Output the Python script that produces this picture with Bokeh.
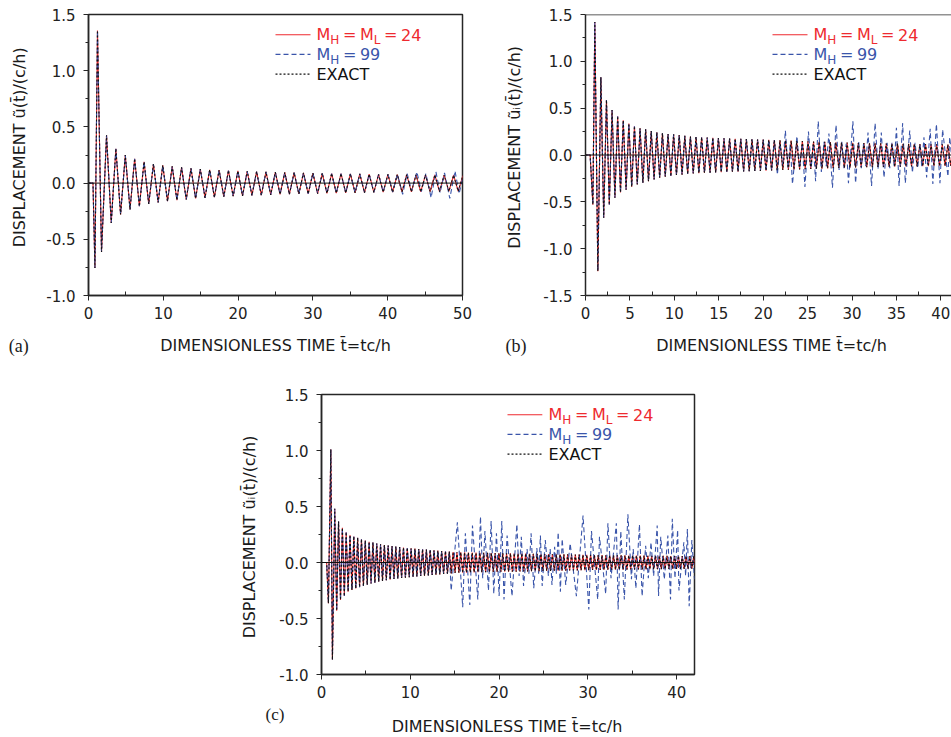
import math
from bokeh.plotting import figure
from bokeh.models import Range1d, Span, Label, FixedTicker, PrintfTickFormatter, Spacer
from bokeh.layouts import column, row
from bokeh.embed import file_html
from bokeh.resources import INLINE
from bokeh.core.properties import value

# ---------------- DATA (extrema) ----------------
# Panel (a): exact solution (red M_H = M_L = 24 coincides with it)
a_t = [0.00, 0.60, 0.86, 1.20, 1.74,
       2.41, 3.04, 3.66, 4.29, 4.92, 5.55, 6.17, 6.80, 7.43, 8.05,
       8.68, 9.31, 9.93, 10.56, 11.19, 11.82, 12.44, 13.07, 13.70, 14.32,
       14.95, 15.58, 16.20, 16.83, 17.46, 18.09, 18.71, 19.34, 19.97, 20.59,
       21.22, 21.85, 22.47, 23.10, 23.73, 24.36, 24.98, 25.61, 26.24, 26.86,
       27.49, 28.12, 28.74, 29.37, 30.00, 30.63, 31.25, 31.88, 32.51, 33.13,
       33.76, 34.39, 35.01, 35.64, 36.27, 36.90, 37.52, 38.15, 38.78, 39.40,
       40.03, 40.66, 41.28, 41.91, 42.54, 43.17, 43.79, 44.42, 45.05, 45.67,
       46.30, 46.93, 47.55, 48.18, 48.81, 49.43, 50.06]
a_v = [0.0, 0.0, -0.756, 1.357, -0.613,
       0.426, -0.354, 0.306, -0.280, 0.250, -0.235, 0.217, -0.205, 0.190, -0.185,
       0.170, -0.172, 0.158, -0.160, 0.149, -0.152, 0.140, -0.146, 0.131, -0.137,
       0.125, -0.131, 0.119, -0.125, 0.115, -0.121, 0.112, -0.117, 0.108, -0.113,
       0.105, -0.110, 0.102, -0.107, 0.100, -0.104, 0.097, -0.101, 0.095, -0.099,
       0.093, -0.097, 0.091, -0.095, 0.089, -0.093, 0.087, -0.091, 0.085, -0.089,
       0.084, -0.087, 0.082, -0.086, 0.081, -0.084, 0.079, -0.083, 0.078, -0.081,
       0.077, -0.080, 0.076, -0.079, 0.075, -0.078, 0.074, -0.077, 0.073, -0.076,
       0.072, -0.075, 0.071, -0.074, 0.070, -0.073, 0.069]
# Panel (a): M_H = 99 departs from the exact curve after t ~ 41
a_blue_start = 41.0
a_blue_t = [41.30, 42.00, 42.60, 43.20, 43.90, 44.50, 45.10, 45.80, 46.45, 47.00,
            47.60, 48.30, 49.00, 49.55, 50.06]
a_blue_v = [0.080, -0.100, 0.085, -0.070, 0.100, -0.075, 0.085, -0.130, 0.100, -0.085,
            0.090, -0.137, 0.107, -0.095, 0.060]

# Panel (b)
b_t = [0.00, 0.52, 0.83, 1.05, 1.39,
       1.73, 2.05, 2.36, 2.68, 2.99, 3.31, 3.62, 3.94, 4.25, 4.57,
       4.88, 5.20, 5.51, 5.83, 6.14, 6.46, 6.77, 7.09, 7.40, 7.72,
       8.03, 8.35, 8.66, 8.98, 9.29, 9.61, 9.92, 10.24, 10.55, 10.87,
       11.18, 11.50, 11.81, 12.13, 12.44, 12.76, 13.07, 13.39, 13.70, 14.02,
       14.33, 14.65, 14.96, 15.28, 15.59, 15.91, 16.22, 16.54, 16.85, 17.17,
       17.48, 17.80, 18.11, 18.43, 18.74, 19.06, 19.37, 19.69, 20.00, 20.32,
       20.63, 20.95, 21.26, 21.58, 21.89, 22.21, 22.52, 22.84, 23.15, 23.47,
       23.78, 24.10, 24.41, 24.73, 25.04, 25.36, 25.67, 25.99, 26.30, 26.62,
       26.93, 27.25, 27.56, 27.88, 28.19, 28.51, 28.82, 29.14, 29.45, 29.77,
       30.08, 30.40, 30.71, 31.03, 31.34, 31.66, 31.97, 32.29, 32.60, 32.92,
       33.23, 33.55, 33.86, 34.18, 34.49, 34.81, 35.12, 35.44, 35.75, 36.07,
       36.38, 36.70, 37.01, 37.33, 37.64, 37.96, 38.27, 38.59, 38.90, 39.22,
       39.53, 39.85, 40.16, 40.48, 40.79, 41.11, 41.42]
b_v = [0.0, 0.0, -0.53, 1.42, -1.24,
       0.83, -0.67, 0.586, -0.53, 0.48, -0.457, 0.414, -0.40, 0.37, -0.37,
       0.336, -0.34, 0.307, -0.314, 0.286, -0.296, 0.275, -0.28, 0.257, -0.26,
       0.243, -0.243, 0.232, -0.232, 0.225, -0.225, 0.221, -0.214, 0.214, -0.210,
       0.204, -0.203, 0.198, -0.198, 0.193, -0.194, 0.188, -0.190, 0.186, -0.188,
       0.184, -0.186, 0.181, -0.184, 0.178, -0.181, 0.176, -0.179, 0.174, -0.177,
       0.172, -0.175, 0.170, -0.173, 0.168, -0.171, 0.166, -0.169, 0.164, -0.167,
       0.162, -0.165, 0.160, -0.162, 0.157, -0.160, 0.155, -0.158, 0.153, -0.156,
       0.150, -0.154, 0.148, -0.151, 0.146, -0.149, 0.144, -0.147, 0.142, -0.145,
       0.140, -0.143, 0.138, -0.141, 0.136, -0.139, 0.134, -0.137, 0.132, -0.135,
       0.130, -0.133, 0.128, -0.131, 0.127, -0.130, 0.126, -0.129, 0.125, -0.128,
       0.124, -0.127, 0.123, -0.126, 0.122, -0.125, 0.121, -0.124, 0.120, -0.123,
       0.119, -0.122, 0.118, -0.121, 0.117, -0.120, 0.116, -0.119, 0.115, -0.118,
       0.114, -0.117, 0.113, -0.116, 0.112, -0.115, 0.111]
b_blue_start = 21.4
b_blue_t = [21.60, 21.90, 22.20, 22.50, 22.80, 23.05, 23.30, 23.80, 24.10, 24.40,
            24.70, 25.10, 25.40, 25.65, 25.90, 26.20, 26.55, 26.85, 27.10, 27.40,
            27.80, 28.20, 28.55, 28.85, 29.10, 29.35, 29.60, 30.10, 30.40, 30.75,
            31.05, 31.30, 31.55, 31.80, 32.20, 32.60, 32.95, 33.30, 33.60, 33.95,
            34.25, 34.50, 34.75, 35.00, 35.30, 35.70, 36.00, 36.50, 36.80, 37.10,
            37.40, 37.65, 37.85, 38.10, 38.40, 38.80, 39.10, 39.50, 39.90, 40.20,
            40.80, 41.00, 41.40]
b_blue_v = [-0.21, 0.12, -0.12, 0.26, -0.14, 0.12, -0.31, 0.20, -0.14, 0.12,
            -0.34, 0.25, -0.14, 0.12, -0.28, 0.36, -0.18, 0.14, -0.12, 0.23,
            -0.35, 0.32, -0.16, 0.14, -0.14, 0.12, -0.30, 0.36, -0.30, 0.14,
            -0.14, 0.12, -0.12, 0.24, -0.33, 0.34, -0.15, 0.24, -0.24, 0.13,
            -0.14, 0.13, -0.12, 0.29, -0.33, 0.34, -0.30, 0.26, -0.19, 0.13,
            -0.14, 0.12, -0.12, 0.19, -0.24, 0.28, -0.31, 0.33, -0.30, 0.27,
            -0.23, 0.19, -0.20]

# Panel (c)
c_t = [0.00, 0.58, 0.78, 1.05, 1.23,
       1.49, 1.71, 1.92, 2.14, 2.35, 2.57, 2.78, 3.00, 3.21, 3.43,
       3.64, 3.86, 4.07, 4.29, 4.50, 4.72, 4.93, 5.15, 5.36, 5.58,
       5.79, 6.01, 6.22, 6.44, 6.65, 6.87, 7.08, 7.30, 7.51, 7.73,
       7.94, 8.16, 8.37, 8.59, 8.80, 9.02, 9.23, 9.45, 9.66, 9.88,
       10.09, 10.31, 10.52, 10.74, 10.95, 11.17, 11.38, 11.60, 11.81, 12.03,
       12.24, 12.46, 12.67, 12.89, 13.10, 13.32, 13.53, 13.75, 13.96, 14.18,
       14.39, 14.61, 14.82, 15.04, 15.25, 15.47, 15.68, 15.90, 16.11, 16.33,
       16.54, 16.76, 16.97, 17.19, 17.40, 17.62, 17.83, 18.05, 18.26, 18.48,
       18.69, 18.91, 19.12, 19.34, 19.55, 19.77, 19.98, 20.20, 20.41, 20.63,
       20.84, 21.06, 21.27, 21.49, 21.70, 21.92, 22.13, 22.35, 22.56, 22.78,
       22.99, 23.21, 23.42, 23.64, 23.85, 24.07, 24.28, 24.50, 24.71, 24.93,
       25.14, 25.36, 25.57, 25.79, 26.00, 26.22, 26.43, 26.65, 26.86, 27.08,
       27.29, 27.51, 27.72, 27.94, 28.15, 28.37, 28.58, 28.80, 29.01, 29.23,
       29.44, 29.66, 29.87, 30.09, 30.30, 30.52, 30.73, 30.95, 31.16, 31.38,
       31.59, 31.81, 32.02, 32.24, 32.45, 32.67, 32.88, 33.10, 33.31, 33.53,
       33.74, 33.96, 34.17, 34.39, 34.60, 34.82, 35.03, 35.25, 35.46, 35.68,
       35.89, 36.11, 36.32, 36.54, 36.75, 36.97, 37.18, 37.40, 37.61, 37.83,
       38.04, 38.26, 38.47, 38.69, 38.90, 39.12, 39.33, 39.55, 39.76, 39.98,
       40.19, 40.41, 40.62, 40.84, 41.05, 41.27, 41.48, 41.70, 41.91, 42.13]
c_v = [0.0, 0.0, -0.364, 1.01, -0.867,
       0.48, -0.43, 0.367, -0.334, 0.31, -0.30, 0.27, -0.26, 0.245, -0.245,
       0.232, -0.232, 0.22, -0.22, 0.208, -0.21, 0.196, -0.198, 0.186, -0.188,
       0.178, -0.180, 0.170, -0.172, 0.163, -0.165, 0.157, -0.159, 0.152, -0.153,
       0.147, -0.148, 0.142, -0.143, 0.138, -0.139, 0.134, -0.135, 0.130, -0.131,
       0.127, -0.127, 0.124, -0.124, 0.121, -0.121, 0.118, -0.118, 0.115, -0.115,
       0.112, -0.112, 0.109, -0.109, 0.106, -0.106, 0.103, -0.103, 0.100, -0.100,
       0.097, -0.097, 0.094, -0.093, 0.092, -0.092, 0.091, -0.091, 0.090, -0.090,
       0.089, -0.089, 0.088, -0.088, 0.088, -0.087, 0.087, -0.087, 0.086, -0.086,
       0.086, -0.085, 0.085, -0.085, 0.084, -0.084, 0.084, -0.083, 0.083, -0.083,
       0.082, -0.082, 0.082, -0.081, 0.081, -0.081, 0.080, -0.080, 0.080, -0.079,
       0.079, -0.079, 0.078, -0.078, 0.078, -0.077, 0.077, -0.077, 0.076, -0.076,
       0.076, -0.075, 0.075, -0.075, 0.074, -0.074, 0.074, -0.073, 0.073, -0.073,
       0.072, -0.072, 0.072, -0.071, 0.071, -0.071, 0.070, -0.070, 0.070, -0.069,
       0.069, -0.069, 0.068, -0.068, 0.068, -0.067, 0.067, -0.067, 0.066, -0.066,
       0.066, -0.066, 0.065, -0.065, 0.065, -0.065, 0.064, -0.064, 0.064, -0.064,
       0.063, -0.063, 0.063, -0.063, 0.062, -0.062, 0.062, -0.062, 0.062, -0.061,
       0.061, -0.061, 0.061, -0.061, 0.060, -0.060, 0.060, -0.060, 0.060, -0.060,
       0.059, -0.059, 0.059, -0.059, 0.059, -0.058, 0.058, -0.058, 0.058, -0.058,
       0.058, -0.057, 0.057, -0.057, 0.057, -0.057, 0.057, -0.056, 0.056, -0.056]
c_blue_start = 14.5
c_blue_t = [14.60, 15.30, 15.90, 16.20, 16.70, 17.00, 17.60, 17.90, 18.15, 18.40,
            18.80, 19.10, 19.40, 19.70, 20.00, 20.30, 20.55, 20.90, 21.45, 22.00,
            22.25, 22.50, 22.75, 23.15, 23.35, 23.60, 23.90, 24.25, 24.45, 24.65,
            24.85, 25.20, 25.55, 25.75, 25.95, 26.25, 26.45, 26.65, 26.90, 27.10,
            27.50, 28.00, 28.70, 29.45, 30.10, 30.40, 31.10, 31.30, 32.00, 32.25,
            32.60, 33.20, 33.40, 33.70, 34.10, 34.50, 34.90, 35.10, 35.40, 35.80,
            36.10, 36.50, 36.80, 37.10, 37.40, 37.80, 37.95, 38.20, 38.60, 39.00,
            39.30, 39.50, 39.80, 40.10, 40.25, 40.80, 41.00, 41.20, 41.40, 41.70,
            42.00]
c_blue_v = [-0.25, 0.36, -0.40, 0.26, -0.38, 0.33, -0.33, 0.41, -0.14, 0.28,
            -0.25, 0.37, -0.28, 0.26, -0.30, 0.37, -0.33, 0.24, -0.30, 0.34,
            -0.12, 0.23, -0.21, 0.12, -0.10, 0.26, -0.23, 0.13, -0.10, 0.24,
            -0.21, 0.20, -0.12, 0.12, -0.20, 0.14, -0.10, 0.27, -0.26, 0.21,
            -0.20, 0.17, -0.30, 0.42, -0.42, 0.28, -0.33, 0.23, -0.28, 0.35,
            -0.14, 0.35, -0.42, 0.28, -0.33, 0.43, -0.15, 0.12, -0.23, 0.34,
            -0.30, 0.15, -0.14, 0.18, -0.12, 0.33, -0.30, 0.23, -0.15, 0.24,
            -0.33, 0.39, -0.14, 0.29, -0.25, 0.18, -0.12, 0.30, -0.39, 0.20,
            -0.15]

# Tick positions
a_xticks = [0, 10, 20, 30, 40, 50]
a_xminor = [5, 15, 25, 35, 45]
b_xticks = [0, 5, 10, 15, 20, 25, 30, 35, 40]
b_xminor = [2.5, 7.5, 12.5, 17.5, 22.5, 27.5, 32.5, 37.5]
c_xticks = [0, 10, 20, 30, 40]
c_xminor = [5, 15, 25, 35]
y_ticks_ac = [-1.0, -0.5, 0.0, 0.5, 1.0, 1.5]
y_minor_ac = [-0.75, -0.25, 0.25, 0.75, 1.25]
y_ticks_b = [-1.5, -1.0, -0.5, 0.0, 0.5, 1.0, 1.5]
y_minor_b = [-1.25, -0.75, -0.25, 0.25, 0.75, 1.25]

legend_red = ["M", ("H",), " = M", ("L",), " = 24"]
legend_blue = ["M", ("H",), " = 99"]
legend_black = ["EXACT"]
xlabel_text = "DIMENSIONLESS TIME t\u0304=tc/h"
ylabel_a = "DISPLACEMENT \u0169(t\u0304)/(c/h)"
ylabel_bc = "DISPLACEMENT \u0169\u1d62(t\u0304)/(c/h)"

# ---------------- STYLE ----------------
FONT = "DejaVu Sans"
SERIF = "Liberation Serif"
AX = "#262626"
TXT = "#1a1a1a"
RED = "#ee2a2f"
BLUE = "#3a55aa"
BLK = "#111111"
SPACE = 3.6   # px advance used for a blank in the legend texts

W = {' ': .318, '(': .390, ')': .390, '/': .337, '=': .838, '2': .636, '4': .636,
     '9': .636, 'A': .684, 'C': .698, 'D': .770, 'E': .632, 'H': .752, 'I': .295,
     'L': .557, 'M': .863, 'N': .748, 'P': .603, 'S': .635, 'T': .611, 'X': .685,
     'c': .550, 'h': .634, 't': .392, '\u0169': .634, '\u0304': 0.0}


def tw(s, size):
    return sum(W.get(ch, 0.6) for ch in s) * size


def make_panel(width, height, xr, yr, borders, xt, xm, yt, ym, outline=True):
    bl, br, bt, bb = borders
    p = figure(width=width, height=height, x_range=Range1d(*xr), y_range=Range1d(*yr),
               output_backend="svg", toolbar_location=None,
               min_border_left=bl, min_border_right=br,
               min_border_top=bt, min_border_bottom=bb)
    p.grid.visible = False
    p.outline_line_color = AX if outline else None
    p.outline_line_width = 1.5
    p.xaxis.ticker = FixedTicker(ticks=xt, minor_ticks=xm)
    p.yaxis.ticker = FixedTicker(ticks=yt, minor_ticks=ym)
    p.yaxis.formatter = PrintfTickFormatter(format="%.1f")
    for ax in (p.xaxis[0], p.yaxis[0]):
        ax.axis_line_color = AX
        ax.axis_line_width = 1.5
        ax.major_tick_line_color = AX
        ax.minor_tick_line_color = AX
        ax.major_tick_line_width = 1
        ax.minor_tick_line_width = 1
        ax.major_label_text_font = FONT
        ax.major_label_text_font_size = "15px"
        ax.major_label_text_color = "#222222"
        ax.major_tick_out = 5
        ax.major_tick_in = 0
    p.xaxis.minor_tick_in = 4
    p.xaxis.minor_tick_out = 0
    p.yaxis.minor_tick_in = 0
    p.yaxis.minor_tick_out = 3
    p.xaxis.major_label_standoff = 6
    p.yaxis.major_label_standoff = 8
    p.add_layout(Span(location=0, dimension="width", line_color=BLK, line_width=1))
    return p


def strip(w, h):
    s = figure(width=w, height=h, x_range=Range1d(0, w), y_range=Range1d(0, h),
               output_backend="svg", toolbar_location=None,
               x_axis_type=None, y_axis_type=None,
               min_border_left=0, min_border_right=0, min_border_top=0, min_border_bottom=0)
    s.outline_line_color = None
    return s


def stext(s, x, y, txt, size, font=FONT, color=TXT, align="left", angle=0.0):
    # y is the vertical centre of the text line
    s.text(x=[x], y=[y], text=[txt], angle=angle, text_font=value(font),
           text_font_size=value("%gpx" % size), text_color=color,
           text_align=align, text_baseline="middle")


def vertical_label(s, xc, yc, txt):
    stext(s, xc, yc, txt, 16, align="center", angle=math.pi / 2)


def draw_curves(p, tx, vx, tb, vb):
    p.line(tx, vx, line_color=RED, line_width=1.1)
    p.line(tb, vb, line_color=BLUE, line_width=1.1, line_dash="5 3")
    p.line(tx, vx, line_color=BLK, line_width=1.1, line_dash="2 2")


def put_pieces(p, x, y, pieces, color, x0, size=16, sub_size=12):
    off = x0
    for piece in pieces:
        if isinstance(piece, tuple):
            txt = piece[0]
            p.add_layout(Label(x=x, y=y, x_offset=off, y_offset=-5.4, text=txt,
                               text_font=FONT, text_font_size="%dpx" % sub_size,
                               text_color=color, text_baseline="middle"))
            off += tw(txt, sub_size)
        else:
            words = piece.split(" ")
            for k, wd in enumerate(words):
                if k > 0:
                    off += SPACE
                if wd:
                    p.add_layout(Label(x=x, y=y, x_offset=off, y_offset=0, text=wd,
                                       text_font=FONT, text_font_size="%dpx" % size,
                                       text_color=color, text_baseline="middle"))
                    off += tw(wd, size)


def add_legend(p, xr, yr, fw, fh):
    ux = (xr[1] - xr[0]) / fw
    uy = (yr[1] - yr[0]) / fh
    rows = [(RED, None, legend_red), (BLUE, "5 3", legend_blue), (BLK, "2 2", legend_black)]
    for i, (col, dash, pieces) in enumerate(rows):
        yc = 20.2 + i * 19.7
        yd = yr[1] - yc * uy
        xa = xr[0] + 187 * ux
        xb = xr[0] + 222 * ux
        kw = dict(line_color=col, line_width=1.1)
        if dash:
            kw["line_dash"] = dash
        p.line([xa, xb], [yd, yd], **kw)
        put_pieces(p, xa, yd, pieces, col, 41)


def blue_series(tx, vx, start, bt, bv):
    t = [t for t in tx if t < start] + bt
    v = [v for t, v in zip(tx, vx) if t < start] + bv
    return t, v


# ---------------- PANEL (a) ----------------
xr_a, yr_a = (0, 50), (-1.0, 1.5)
pa = make_panel(435, 328, xr_a, yr_a, (45, 16, 14, 33), a_xticks, a_xminor, y_ticks_ac, y_minor_ac)
tb, vb = blue_series(a_t, a_v, a_blue_start, a_blue_t, a_blue_v)
draw_curves(pa, a_t, a_v, tb, vb)
add_legend(pa, xr_a, yr_a, 374, 281)
sa = strip(43, 328)
vertical_label(sa, 18.5, 328 - 155, ylabel_a)
ba = strip(478, 32)
stext(ba, 275, 360 - 345, xlabel_text, 16, align="center")
stext(ba, 8.3, 360 - 345.5, "(a)", 18, font=SERIF)

# ---------------- PANEL (b) ----------------
xr_b, yr_b = (0, 41.2), (-1.5, 1.5)
pb = make_panel(411, 328, xr_b, yr_b, (45, 0, 14, 33), b_xticks, b_xminor, y_ticks_b, y_minor_b,
                outline=False)
pb.add_layout(Span(location=1.5, dimension="width", line_color=AX, line_width=1.5))
tb, vb = blue_series(b_t, b_v, b_blue_start, b_blue_t, b_blue_v)
draw_curves(pb, b_t, b_v, tb, vb)
add_legend(pb, xr_b, yr_b, 366, 281)
sb = strip(62, 328)
vertical_label(sb, 514 - 478, 328 - 155, ylabel_bc)
bb = strip(473, 32)
stext(bb, 771 - 478, 360 - 345, xlabel_text, 16, align="center")
stext(bb, 505 - 478, 360 - 345.5, "(b)", 18, font=SERIF)

# ---------------- PANEL (c) ----------------
xr_c, yr_c = (0, 42), (-1.0, 1.5)
pc = make_panel(432, 344, xr_c, yr_c, (43, 14, 34, 30), c_xticks, c_xminor, y_ticks_ac, y_minor_ac)
tb, vb = blue_series(c_t, c_v, c_blue_start, c_blue_t, c_blue_v)
draw_curves(pc, c_t, c_v, tb, vb)
add_legend(pc, xr_c, yr_c, 375, 280)
sc = strip(40, 344)
vertical_label(sc, 248.5 - 236, 704 - 535, ylabel_bc)
bc = strip(472, 33)
stext(bc, 506.5 - 236, 737 - 725.5, xlabel_text, 16, align="center")
stext(bc, 265 - 236, 737 - 714, "(c)", 17, font=SERIF)

top_row = row(column(row(sa, pa), ba), column(row(sb, pb), bb))
bottom_row = row(Spacer(width=236, height=377), column(row(sc, pc), bc))
layout = column(top_row, bottom_row)
open("out.html", "w").write(file_html(layout, INLINE))
